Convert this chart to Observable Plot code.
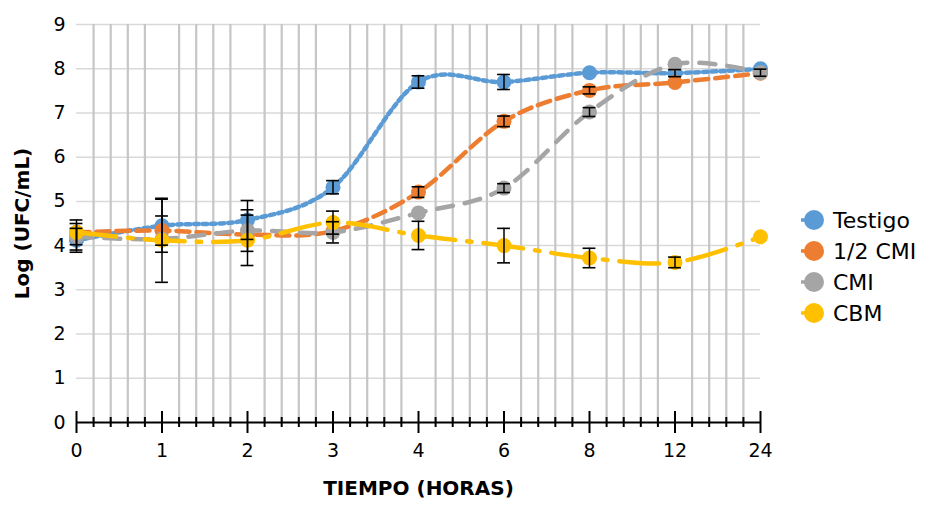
<!DOCTYPE html>
<html>
<head>
<meta charset="utf-8">
<script src="https://cdn.jsdelivr.net/npm/d3@7"></script>
<script src="https://cdn.jsdelivr.net/npm/@observablehq/plot@0.6"></script>
<style>
  html, body { margin: 0; padding: 0; background: #fff; }
  #chart { width: 925px; height: 506px; }
</style>
</head>
<body>
<div id="chart"></div>
<script>
const categories = ["0", "1", "2", "3", "4", "6", "8", "12", "24"];
const seriesNames = ["Testigo", "1/2 CMI", "CMI", "CBM"];
const testigo     = [4.12, 4.45, 4.58, 5.32, 7.70, 7.70, 7.91, 7.90, 8.00];
const testigoErr  = [0.27, 0.60, 0.44, 0.15, 0.14, 0.17, 0.00, 0.08, 0.00];
const mediaCmi    = [4.30, 4.34, 4.25, 4.33, 5.21, 6.81, 7.51, 7.69, 7.90];
const mediaCmiErr = [0.00, 0.33, 0.00, 0.00, 0.12, 0.12, 0.08, 0.00, 0.00];
const cmi         = [4.20, 4.15, 4.34, 4.30, 4.74, 5.30, 7.02, 8.10, 7.91];
const cmiErr      = [0.30, 0.00, 0.47, 0.24, 0.00, 0.10, 0.10, 0.00, 0.08];
const cbm         = [4.30, 4.12, 4.12, 4.52, 4.23, 4.00, 3.72, 3.62, 4.20];
const cbmErr      = [0.28, 0.95, 0.57, 0.26, 0.32, 0.39, 0.22, 0.12, 0.00];
const yTicks = [0, 1, 2, 3, 4, 5, 6, 7, 8, 9];

const colors = ["#5b9bd5", "#ed7d31", "#a5a5a5", "#ffc000"];
const dashes = ["4.5,4", "13,7", "16,12", "40,12,4.5,12"];
const values = [testigo, mediaCmi, cmi, cbm];
const errs = [testigoErr, mediaCmiErr, cmiErr, cbmErr];

const series = seriesNames.map((name, s) =>
  categories.map((c, i) => ({series: name, i, cat: c, v: values[s][i], e: errs[s][i]}))
);
const errPts = series.flat().filter(d => d.e > 0);

const majors = d3.range(categories.length);
const minors = d3.range(categories.length - 1).flatMap(i => [1, 2, 3, 4].map(k => i + k / 5));
const capHalf = 0.075;

const marks = [
  Plot.ruleY(yTicks.filter(t => t > 0), {stroke: "#d9d9d9", strokeWidth: 1.5}),
  Plot.ruleX(minors, {y1: 0, y2: 9, stroke: "#c6c6c6", strokeWidth: 2.2}),
  Plot.ruleY([0], {stroke: "#000", strokeWidth: 2}),
  Plot.ruleX(majors, {y1: 0, y2: 0, insetTop: -11, insetBottom: -11, stroke: "#000", strokeWidth: 2}),
  Plot.ruleX(minors, {y1: 0, y2: 0, insetTop: -5, insetBottom: -5, stroke: "#000", strokeWidth: 2}),
  Plot.axisY({ticks: yTicks, tickSize: 0, tickPadding: 11, fontSize: 19, label: null}),
  Plot.axisX({ticks: majors, tickSize: 0, tickPadding: 21, fontSize: 19, label: null,
              tickFormat: i => categories[i]})
];

series.forEach((pts, s) => {
  marks.push(Plot.line(pts, {x: "i", y: "v", stroke: colors[s], strokeWidth: 4.5,
    strokeDasharray: dashes[s], curve: "cardinal", tension: 0}));
  marks.push(Plot.dot(pts, {x: "i", y: "v", r: 7.5, fill: colors[s], stroke: "none"}));
});

marks.push(
  Plot.ruleX(errPts, {x: "i", y1: d => d.v - d.e, y2: d => d.v + d.e, stroke: "#000", strokeWidth: 1.5}),
  Plot.ruleY(errPts, {y: d => d.v + d.e, x1: d => d.i - capHalf, x2: d => d.i + capHalf, stroke: "#000", strokeWidth: 1.6}),
  Plot.ruleY(errPts, {y: d => d.v - d.e, x1: d => d.i - capHalf, x2: d => d.i + capHalf, stroke: "#000", strokeWidth: 1.6}),
  Plot.text(["Log (UFC/mL)"], {text: d => d, frameAnchor: "left", dx: -54, rotate: -90,
    textAnchor: "middle", fontWeight: "bold", fontSize: 20, fill: "#000"}),
  Plot.text(["TIEMPO (HORAS)"], {text: d => d, frameAnchor: "bottom", dy: 72,
    textAnchor: "middle", fontWeight: "bold", fontSize: 20, fill: "#000"})
);

const chart = Plot.plot({
  width: 925,
  height: 506,
  marginLeft: 76,
  marginRight: 165,
  marginTop: 24,
  marginBottom: 84,
  style: {fontFamily: "'DejaVu Sans', sans-serif", color: "#000", background: "#fff"},
  x: {type: "linear", domain: [0, categories.length - 1]},
  y: {domain: [0, 9]},
  marks
});

// Legend
const svg = d3.select(chart);
const lg = svg.append("g").attr("font-family", "'DejaVu Sans', sans-serif").attr("text-anchor", "start");
seriesNames.forEach((name, s) => {
  const cy = 220 + s * 31;
  lg.append("line").attr("x1", 801).attr("x2", 813).attr("y1", cy).attr("y2", cy)
    .attr("stroke", colors[s]).attr("stroke-width", 3.5);
  lg.append("circle").attr("cx", 814).attr("cy", cy).attr("r", 10).attr("fill", colors[s]);
  lg.append("text").attr("x", 833).attr("y", cy).attr("dy", "0.36em")
    .attr("font-size", 22).attr("fill", "#000").attr("text-anchor", "start").text(name);
});

document.getElementById("chart").appendChild(chart);
</script>
</body>
</html>
